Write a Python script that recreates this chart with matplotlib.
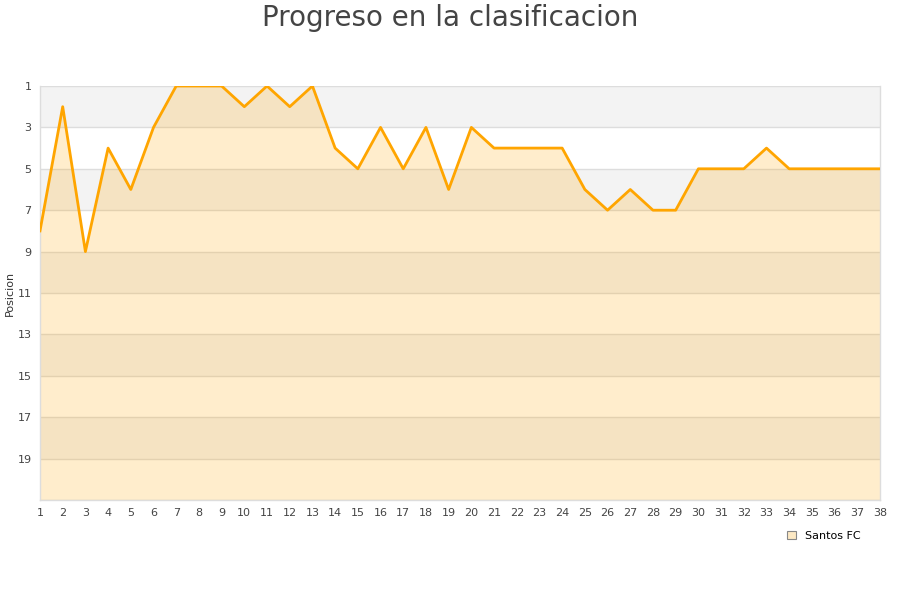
import matplotlib
matplotlib.use("Agg")
import matplotlib.pyplot as plt
from matplotlib.patches import Patch

jornadas = list(range(1, 39))
posiciones = [8, 2, 9, 4, 6, 3, 1, 1, 1, 2, 1, 2, 1, 4, 5, 3, 5, 3, 6, 3,
              4, 4, 4, 4, 6, 7, 6, 7, 7, 5, 5, 5, 4, 5, 5, 5, 5, 5]
y_ticks = [1, 3, 5, 7, 9, 11, 13, 15, 17, 19]
team = "Santos FC"

fig = plt.figure(figsize=(9, 6), dpi=100)
ax = fig.add_axes([40/900, 1-500/600, 840/900, 414/600])

# alternating bands
for i, lo in enumerate(range(1, 21, 2)):
    if i % 2 == 0:
        ax.axhspan(lo, lo+2, color="#f3f3f3", zorder=0, lw=0)

for t in y_ticks + [21]:
    ax.axhline(t, color="#dddddd", lw=1, zorder=1)

ax.fill_between(jornadas, posiciones, 21, color="#ffa500", alpha=0.2, lw=0, zorder=2)
ax.plot(jornadas, posiciones, color="#ffa500", lw=2.0, zorder=3)

ax.set_xlim(1, 38)
ax.set_ylim(21, 1)
ax.set_xticks(jornadas)
ax.set_yticks(y_ticks)
ax.tick_params(axis="both", length=0, labelsize=8, colors="#444444", pad=6)
for s in ["top"]:
    ax.spines[s].set_visible(False)
for s in ["left", "right", "bottom"]:
    ax.spines[s].set_color("#dddddd")
    ax.spines[s].set_linewidth(1)

ax.set_ylabel("Posicion", fontsize=8, color="#333333", labelpad=2)
fig.suptitle("Progreso en la clasificacion", fontsize=20, color="#444444", y=0.993)

handle = Patch(facecolor="#fde9c4", edgecolor="#888888", linewidth=0.8)
leg = fig.legend([handle], [team], loc="center", bbox_to_anchor=(0.915, 0.107),
                 frameon=False, fontsize=8, handlelength=0.8, handleheight=0.8,
                 handletextpad=0.8)

fig.savefig("out.png", dpi=100)
